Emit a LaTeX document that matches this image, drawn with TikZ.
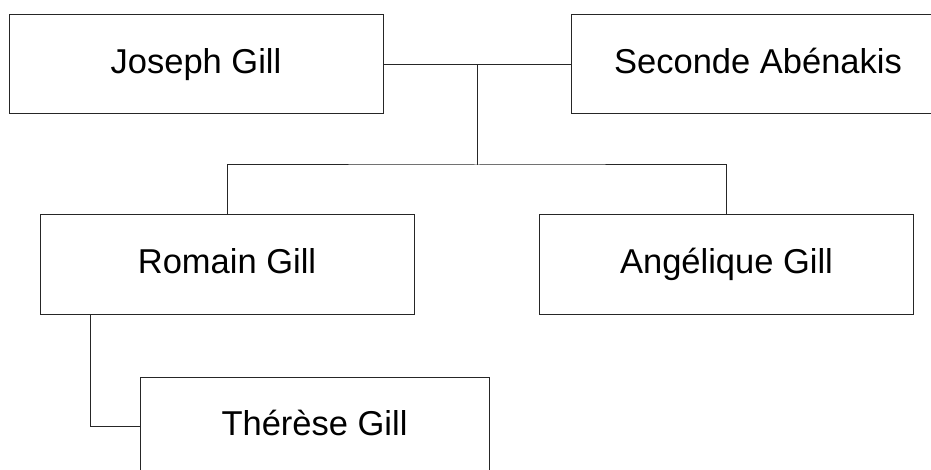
\documentclass[tikz,border=0pt]{standalone}
\usepackage{fontspec}
\setmainfont{Liberation Sans}
\begin{document}
\begin{tikzpicture}[x=1pt,y=-1pt,
  person/.style={draw=black!85, line width=1pt, fill=white, minimum width=374pt, minimum height=99pt, inner sep=0pt, text height=24.5pt, text depth=7pt, font=\fontsize{34.5pt}{40pt}\selectfont},
  link/.style={draw=black!85, line width=1pt}]
\useasboundingbox (0,0) rectangle (931,470);
\clip (0,0) rectangle (931,470);
\node[person] (joseph) at (196,64.5) {Joseph Gill};
\node[person] (seconde) at (758,64.5) {Seconde Abénakis};
\node[person] (romain) at (227,264.5) {Romain Gill};
\node[person] (angelique) at (726.5,264.5) {Angélique Gill};
\node[person, minimum width=349pt] (therese) at (314.5,426.5) {Thérèse Gill};
\coordinate (m) at (477,64.5);
\coordinate (c) at (477,165);
\draw[link] (joseph.east) -- (seconde.west);
\draw[link] (m) -- (c);
\draw[link] (romain.north) |- (c) -| (angelique.north);
\draw[link] ([xshift=51pt]romain.south west) |- (therese.west);
\end{tikzpicture}
\end{document}
